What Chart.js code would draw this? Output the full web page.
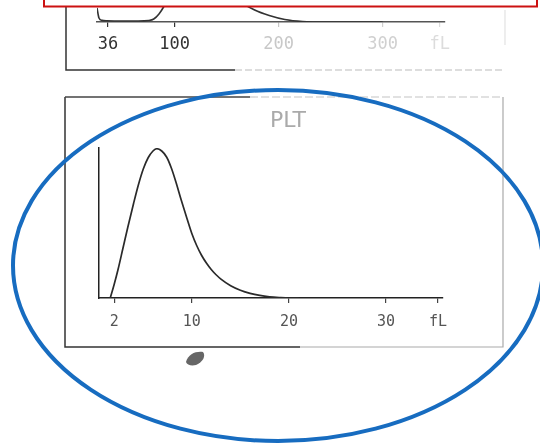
<!DOCTYPE html>
<html>
<head>
<meta charset="utf-8">
<script src="https://cdn.jsdelivr.net/npm/chart.js@4.4.1/dist/chart.umd.min.js"></script>
<style>
  html, body { margin: 0; padding: 0; background: #fff; }
  #page { position: relative; width: 540px; height: 444px; overflow: hidden; background: #fff; }
  #rbcBox { position: absolute; left: 0; top: -100px; width: 540px; height: 200px; }
  #pltBox { position: absolute; left: 0; top: 0; width: 540px; height: 444px; }
  svg { position: absolute; left: 0; top: 0; }
</style>
</head>
<body>
<div id="page">
  <div id="rbcBox"><canvas id="rbcChart"></canvas></div>
  <div id="pltBox"><canvas id="pltChart"></canvas></div>
  <svg width="540" height="444">
    <!-- frame of the upper (RBC) panel -->
    <path d="M66 0 V70 H235" stroke="#333" stroke-width="1.5" fill="none"/>
    <path d="M235 70 H505" stroke="#bbb" stroke-width="1.1" stroke-dasharray="7 3" fill="none"/>
    <path d="M505 10 V45" stroke="#e2e2e2" stroke-width="1.2" fill="none"/>
    <!-- frame of the PLT panel -->
    <path d="M65 97 V347 H300" stroke="#333" stroke-width="1.5" fill="none"/>
    <path d="M300 347 H503 V97" stroke="#aaa" stroke-width="1.2" fill="none"/>
    <path d="M65 97 H250" stroke="#444" stroke-width="1.4" fill="none"/>
    <path d="M250 97 H503" stroke="#c4c4c4" stroke-width="1.1" stroke-dasharray="8 3" fill="none"/>
    <!-- ink blot -->
    <path d="M186 362 C188 354 196 351 203 352 C206 356 203 362 196 365 C191 366 187 365 186 362 Z" fill="#666"/>
    <!-- annotations -->
    <rect x="44" y="-10" width="493" height="16.5" fill="#fff" stroke="#cc1111" stroke-width="2"/>
    <ellipse cx="278" cy="265.5" rx="265" ry="175.5" fill="none" stroke="#176cc0" stroke-width="4"/>
  </svg>
</div>
<script>
// PLT histogram (size in fL, relative count in %)
const pltSize  = [1.6, 2.0, 2.4, 2.9, 3.4, 4.0, 4.5, 5.0, 5.5, 6.0, 6.4, 6.9, 7.4, 7.9, 8.4, 8.9, 9.5, 10.0, 10.5, 11.0, 11.5, 12.0, 12.5, 13.0, 14.0, 15.0, 16.0, 17.0, 18.0, 19.0, 20.0, 21.0];
const pltCount = [0, 9, 19, 33, 47, 63, 75.5, 86, 93.5, 98, 99.5, 98, 94, 86.5, 76.5, 65.5, 53, 43, 35, 28.5, 23.3, 19, 15.5, 12.6, 8.2, 5.2, 3.1, 1.7, 0.8, 0.3, 0, 0];
const pltTickValues = [2, 10, 20, 30, 35.35];
const pltTickLabels = ['2', '10', '20', '30', 'fL'];
const chartTitle = 'PLT';

// upper RBC histogram, only the part left in the picture
const rbcSize  = [25.4, 27.3, 30.2, 35, 50, 65, 75, 80, 85, 90, 95, 105, 120, 135, 150, 161, 177, 191, 206, 223, 245, 300];
const rbcCount = [14, 4, 1.6, 1.2, 1, 1, 1.5, 3, 8, 16, 26, 48, 62, 55, 36, 22, 12, 6.5, 2.5, 0.5, 0, 0];
const rbcTickValues = [36, 100, 200, 300, 355];
const rbcTickLabels = ['36', '100', '200', '300', 'fL'];
const rbcTickColors = ['#333', '#333', '#c8c8c8', '#d0d0d0', '#dcdcdc'];

const toPoints = (xs, ys) => xs.map((x, i) => ({ x: x, y: ys[i] }));

const titlePlugin = {
  id: 'pltTitle',
  afterDraw(chart) {
    const c = chart.ctx;
    c.save();
    c.font = '22px "DejaVu Sans"';
    c.fillStyle = '#aaa';
    c.textAlign = 'center';
    c.textBaseline = 'middle';
    c.fillText(chartTitle, 288, 121);
    c.restore();
  }
};

new Chart(document.getElementById('pltChart').getContext('2d'), {
  type: 'line',
  data: {
    datasets: [{
      data: toPoints(pltSize, pltCount),
      borderColor: '#2a2a2a',
      borderWidth: 1.7,
      pointRadius: 0,
      fill: false,
      cubicInterpolationMode: 'monotone'
    }]
  },
  options: {
    responsive: true,
    maintainAspectRatio: false,
    animation: false,
    layout: { padding: { left: 99, right: 97, top: 148, bottom: 106 } },
    plugins: { legend: { display: false }, tooltip: { enabled: false } },
    scales: {
      x: {
        type: 'linear',
        min: 0.44,
        max: 35.87,
        afterFit: s => { s.height = 40; },
        afterBuildTicks: s => { s.ticks = pltTickValues.map(v => ({ value: v })); },
        grid: { display: true, drawOnChartArea: false, drawTicks: true, tickLength: 5, color: '#444', lineWidth: 1.2 },
        border: { display: true, color: '#222', width: 1.5 },
        ticks: {
          autoSkip: false,
          maxRotation: 0,
          padding: 10,
          color: '#555',
          font: { family: 'DejaVu Sans Mono', size: 15 },
          callback: (v, i) => pltTickLabels[i]
        }
      },
      y: {
        min: 0,
        max: 100,
        afterFit: s => { s.width = 0; },
        ticks: { display: false },
        grid: { display: false },
        border: { display: true, color: '#222', width: 1.5 }
      }
    }
  },
  plugins: [titlePlugin]
});

new Chart(document.getElementById('rbcChart').getContext('2d'), {
  type: 'line',
  data: {
    datasets: [{
      data: toPoints(rbcSize, rbcCount),
      borderColor: '#333',
      borderWidth: 1.6,
      pointRadius: 0,
      fill: false,
      cubicInterpolationMode: 'monotone'
    }]
  },
  options: {
    responsive: true,
    maintainAspectRatio: false,
    animation: false,
    layout: { padding: { left: 97, right: 95, top: 22, bottom: 38 } },
    plugins: { legend: { display: false }, tooltip: { enabled: false } },
    scales: {
      x: {
        type: 'linear',
        min: 25.4,
        max: 360,
        afterFit: s => { s.height = 40; },
        afterBuildTicks: s => { s.ticks = rbcTickValues.map(v => ({ value: v })); },
        grid: {
          display: true, drawOnChartArea: false, drawTicks: true, tickLength: 5, lineWidth: 1.2,
          color: ctx => rbcTickColors[ctx.index] || '#ccc'
        },
        border: { display: true, color: '#555', width: 1.4 },
        ticks: {
          autoSkip: false,
          maxRotation: 0,
          padding: 7,
          color: ctx => rbcTickColors[ctx.index] || '#ccc',
          font: { family: 'DejaVu Sans Mono', size: 17 },
          callback: (v, i) => rbcTickLabels[i]
        }
      },
      y: {
        min: 0,
        max: 100,
        display: false
      }
    }
  }
});
</script>
</body>
</html>
